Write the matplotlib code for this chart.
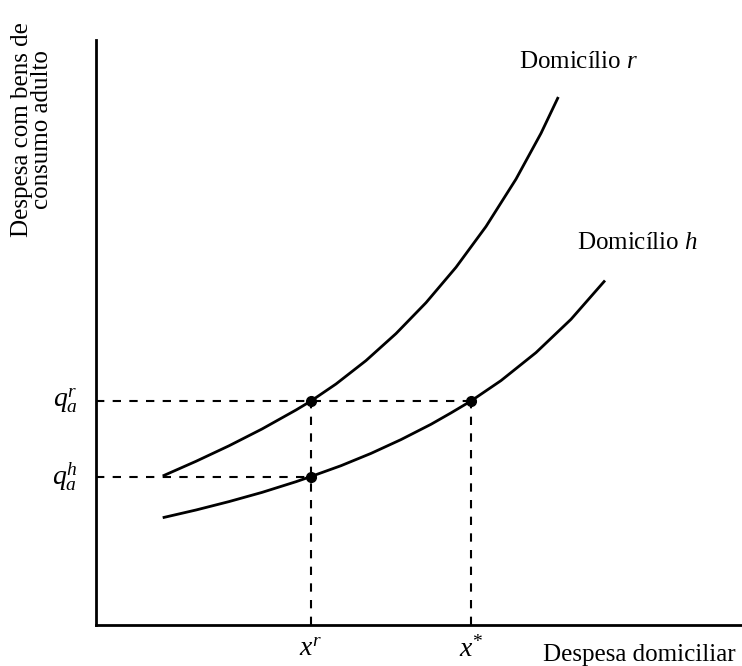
import numpy as np
import matplotlib
matplotlib.use("Agg")
import matplotlib.pyplot as plt

plt.rcParams['font.family'] = ['Liberation Serif', 'DejaVu Serif']
plt.rcParams['mathtext.fontset'] = 'custom'
plt.rcParams['mathtext.rm'] = 'Liberation Serif'
plt.rcParams['mathtext.it'] = 'Liberation Serif:italic'

#curve points (arbitrary units)
x_r = [66.7, 100, 133, 166, 200, 215, 240, 270, 300, 330, 360, 390, 420, 445, 462.3]
y_r = [149, 163.7, 179.2, 196.0, 215.0, 224, 241, 264.4, 291.4, 322.3, 357.7, 398.5, 445.9, 491.7, 528.0]
x_h = [66.7, 100, 133, 166, 200, 215, 245, 275, 305, 335, 355, 375, 405, 440, 475, 509]
y_h = [107.3, 115.0, 123.4, 132.6, 143.3, 148.5, 159.3, 171.6, 185.4, 200.7, 212.1, 224, 244.4, 272.4, 305.7, 344.5]

#marked points
xr_pt = 215
xstar_pt = 375
qr_pt = 224
qh_pt = 148.5

fs = 18

fig = plt.figure(figsize=(7.42, 6.66), dpi=100)
ax = fig.add_axes([96/742, 41/666, 646/742, 585/666])
ax.set_xlim(0, 646)
ax.set_ylim(0, 585)
for s in ['top', 'right']:
  ax.spines[s].set_visible(False)
for s in ['left', 'bottom']:
  ax.spines[s].set_linewidth(2)
ax.set_xticks([])
ax.set_yticks([])

#dashed guides
dash = dict(color='black', lw=1.5, linestyle=(0, (4, 4)))
ax.plot([0, xstar_pt], [qr_pt, qr_pt], **dash)
ax.plot([0, xr_pt], [qh_pt, qh_pt], **dash)
ax.plot([xr_pt, xr_pt], [0, qr_pt], **dash)
ax.plot([xstar_pt, xstar_pt], [0, qr_pt], **dash)

#curves
ax.plot(x_r, y_r, color='black', lw=2, solid_capstyle='butt', solid_joinstyle='round')
ax.plot(x_h, y_h, color='black', lw=2, solid_capstyle='butt', solid_joinstyle='round')
ax.plot([xr_pt, xr_pt, xstar_pt], [qr_pt, qh_pt, qr_pt], 'o', color='black', ms=7)

#labels
ax.text(483, 563, r'Domicílio $r$', fontsize=fs, ha='center', va='center')
ax.text(481, 382, r'Domicílio $h$', fontsize=fs, ha='left', va='center')
ax.text(-18, qr_pt, r'$q_a^r$', fontsize=fs+2, ha='right', va='center', clip_on=False)
ax.text(-18, qh_pt, r'$q_a^h$', fontsize=fs+2, ha='right', va='center', clip_on=False)
ax.text(xr_pt, -24, r'$x^r$', fontsize=fs+2, ha='center', va='center', clip_on=False)
ax.text(xstar_pt, -24, r'$x^{*}$', fontsize=fs+2, ha='center', va='center', clip_on=False)
ax.text(640, -30, 'Despesa domiciliar', fontsize=fs, ha='right', va='center', clip_on=False)
ax.text(-64, 495, 'Despesa com bens de\nconsumo adulto', fontsize=fs, rotation=90,
        ha='center', va='center', linespacing=0.85, clip_on=False)

plt.savefig('out.png', dpi=100)
